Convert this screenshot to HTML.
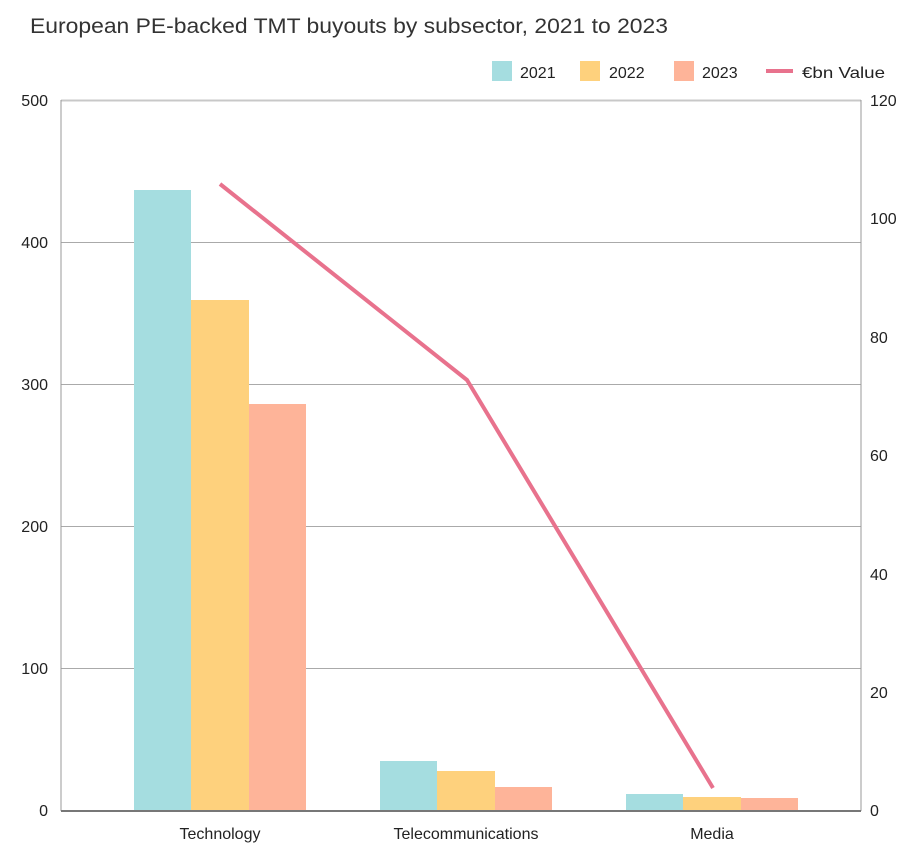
<!DOCTYPE html>
<html><head><meta charset="utf-8"><style>
html,body{margin:0;padding:0;background:#fff;}
svg{display:block;font-family:"Liberation Sans",sans-serif;}
</style></head><body>
<svg width="924" height="866" viewBox="0 0 924 866">
<text x="30" y="33" font-size="21" fill="#333" textLength="638" lengthAdjust="spacingAndGlyphs">European PE-backed TMT buyouts by subsector, 2021 to 2023</text>
<!-- legend -->
<rect x="492" y="61" width="20" height="20" fill="#a5dde0"/>
<text x="520" y="78" font-size="16" fill="#222">2021</text>
<rect x="580" y="61" width="20" height="20" fill="#fed17d"/>
<text x="609" y="78" font-size="16" fill="#222">2022</text>
<rect x="674" y="61" width="20" height="20" fill="#feb499"/>
<text x="702" y="78" font-size="16" fill="#222">2023</text>
<rect x="766" y="69" width="27" height="4" fill="#e8728d"/>
<text x="802" y="78" font-size="16" fill="#222" textLength="83" lengthAdjust="spacingAndGlyphs">€bn Value</text>
<!-- grid -->
<g stroke="#aaa" stroke-width="1">
<line x1="61" y1="100.5" x2="861" y2="100.5" stroke="#c8c8c8" stroke-width="2"/>
<line x1="61" y1="242.5" x2="861" y2="242.5"/>
<line x1="61" y1="384.5" x2="861" y2="384.5"/>
<line x1="61" y1="526.5" x2="861" y2="526.5"/>
<line x1="61" y1="668.5" x2="861" y2="668.5"/>
<line x1="61" y1="100" x2="61" y2="811" stroke="#999"/>
<line x1="861" y1="100" x2="861" y2="811" stroke="#999"/>
</g>
<!-- bars -->
<rect x="134" y="190" width="57" height="621" fill="#a5dde0"/>
<rect x="191" y="300" width="58" height="511" fill="#fed17d"/>
<rect x="249" y="404" width="57" height="407" fill="#feb499"/>
<rect x="380" y="761" width="57" height="50" fill="#a5dde0"/>
<rect x="437" y="771" width="58" height="40" fill="#fed17d"/>
<rect x="495" y="787" width="57" height="24" fill="#feb499"/>
<rect x="626" y="794" width="57" height="17" fill="#a5dde0"/>
<rect x="683" y="797" width="58" height="14" fill="#fed17d"/>
<rect x="741" y="798" width="57" height="13" fill="#feb499"/>
<line x1="61" y1="811" x2="861" y2="811" stroke="#777" stroke-width="2"/>
<polyline points="220,184 467,380 713,788" fill="none" stroke="#e8728d" stroke-width="4"/>
<!-- ticks -->
<g font-size="16" fill="#222" text-anchor="end">
<text x="48" y="106">500</text><text x="48" y="248">400</text><text x="48" y="390">300</text>
<text x="48" y="532">200</text><text x="48" y="674">100</text><text x="48" y="816">0</text>
</g>
<g font-size="16" fill="#222">
<text x="870" y="106">120</text><text x="870" y="224">100</text><text x="870" y="343">80</text>
<text x="870" y="461">60</text><text x="870" y="580">40</text><text x="870" y="698">20</text><text x="870" y="816">0</text>
</g>
<g font-size="16" fill="#222" text-anchor="middle">
<text x="220" y="839">Technology</text>
<text x="466" y="839">Telecommunications</text>
<text x="712" y="839">Media</text>
</g>
</svg>
</body></html>
